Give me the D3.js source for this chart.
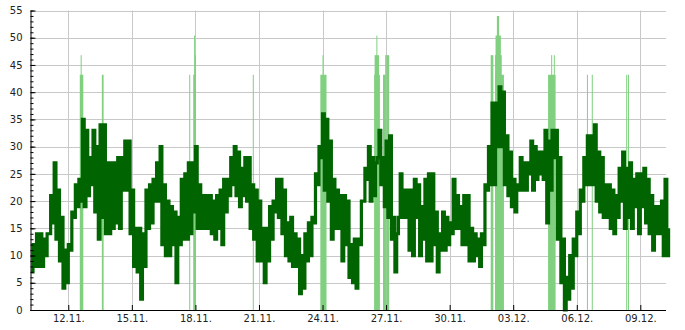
<!DOCTYPE html>
<meta charset="utf-8">
<style>
  body { margin: 0; background: white; }
  .axis text { font-family: "DejaVu Sans", sans-serif; font-size: 10px; fill: #222; }
  .axis path, .axis line { stroke: #000; }
  .grid line { stroke: #c8c8c8; stroke-width: 1px; }
</style>
<body>
<svg width="685" height="330"></svg>
<script src="https://d3js.org/d3.v7.min.js"></script>
<script>

// wind: low and high of every 4 hour block, starting 10.11. 06:00
var seriesStart = "2023-11-10T06:00";
var stepHours = 4;

var windLow = [
  7, 8, 8, 8, 10, 14, 16, 13, 9, 4, 5, 11, 17, 19, 20, 19, 21, 23, 18, 13,
  17, 14, 14, 15, 16, 15, 22, 22, 14, 8, 7, 2, 8, 15, 16, 20, 20, 12, 10, 10,
  12, 5, 12, 13, 13, 14, 18, 15, 15, 15, 15, 14, 13, 15, 12, 18, 21, 23, 21, 19,
  21, 20, 15, 13, 9, 9, 5, 9, 13, 18, 17, 14, 10, 9, 8, 8, 3, 4, 9, 10,
  16, 23, 28, 22, 20, 13, 15, 15, 9, 12, 6, 5, 4, 12, 20, 24, 20, 21, 28, 23,
  19, 17, 13, 7, 17, 17, 17, 11, 10, 17, 10, 13, 9, 9, 12, 7, 11, 11, 12, 14,
  15, 15, 12, 12, 9, 9, 10, 8, 12, 22, 23, 23, 30, 30, 23, 21, 19, 18, 22, 22,
  22, 25, 22, 24, 25, 24, 16, 22, 28, 13, 5, 0, 2, 4, 10, 14, 20, 23, 23, 23,
  20, 18, 17, 17, 15, 14, 17, 20, 15, 17, 15, 19, 14, 19, 16, 14, 11, 14, 14, 10,
  10
];

var windHigh = [
  12, 14, 14, 13, 14, 21, 27, 22, 17, 11, 12, 18, 23, 24, 35, 33, 28, 33, 30, 34,
  34, 27, 27, 27, 28, 28, 31, 31, 22, 15, 15, 14, 22, 23, 24, 27, 30, 23, 20, 19,
  18, 17, 24, 25, 27, 27, 30, 23, 21, 21, 21, 20, 21, 22, 24, 24, 28, 30, 29, 26,
  28, 28, 23, 22, 20, 15, 15, 19, 20, 24, 24, 22, 16, 17, 14, 13, 10, 14, 16, 17,
  25, 30, 36, 35, 31, 24, 22, 21, 21, 20, 12, 13, 13, 20, 26, 30, 28, 27, 33, 28,
  31, 32, 17, 14, 25, 22, 22, 22, 24, 23, 19, 24, 25, 25, 18, 14, 18, 17, 16, 24,
  21, 19, 21, 21, 15, 14, 13, 14, 23, 30, 38, 38, 41, 40, 32, 29, 24, 23, 28, 27,
  27, 31, 30, 29, 29, 33, 31, 33, 33, 28, 13, 6, 10, 13, 18, 22, 28, 32, 32, 34,
  29, 28, 23, 23, 22, 21, 26, 29, 26, 27, 24, 25, 25, 26, 24, 21, 19, 19, 20, 24,
  15
];

// gusts, drawn as bars from 0
var gustFrom = [
  "2023-11-12T13:00", "2023-11-12T14:00", "2023-11-13T14:00", "2023-11-17T17:00",
  "2023-11-17T21:30", "2023-11-17T22:30", "2023-11-17T23:30", "2023-11-20T17:00",
  "2023-11-23T21:30", "2023-11-24T00:00", "2023-11-26T10:30", "2023-11-26T11:00",
  "2023-11-26T13:00", "2023-11-26T20:30", "2023-11-26T23:00", "2023-11-27T00:20",
  "2023-12-01T22:30", "2023-12-02T03:30", "2023-12-02T03:30", "2023-12-02T04:00",
  "2023-12-02T05:30", "2023-12-04T15:30", "2023-12-04T19:00", "2023-12-04T22:00",
  "2023-12-06T11:30", "2023-12-06T17:00", "2023-12-08T08:00", "2023-12-08T10:00"
];
var gustTo = [
  "2023-11-12T17:00", "2023-11-12T15:00", "2023-11-13T16:00", "2023-11-17T18:00",
  "2023-11-18T00:30", "2023-11-17T23:30", "2023-11-18T00:30", "2023-11-20T18:00",
  "2023-11-24T04:30", "2023-11-24T01:00", "2023-11-26T17:00", "2023-11-26T16:00",
  "2023-11-26T14:00", "2023-11-26T23:40", "2023-11-26T23:40", "2023-11-27T03:30",
  "2023-12-02T01:30", "2023-12-02T13:30", "2023-12-02T11:00", "2023-12-02T10:00",
  "2023-12-02T08:00", "2023-12-05T00:00", "2023-12-04T20:00", "2023-12-04T23:00",
  "2023-12-06T12:30", "2023-12-06T18:00", "2023-12-08T09:00", "2023-12-08T11:00"
];
var gustValue = [
  43.2, 46.8, 43.2, 43.2,
  43.2, 50.4, 46.8, 43.2,
  43.2, 46.8, 43.2, 46.8,
  50.4, 43.2, 46.8, 46.8,
  46.8, 43.2, 46.8, 50.4,
  54, 43.2, 46.8, 46.8,
  43.2, 43.2, 43.2, 43.2
];

var xTickDates = ["2023-11-12", "2023-11-15", "2023-11-18", "2023-11-21", "2023-11-24",
  "2023-11-27", "2023-11-30", "2023-12-03", "2023-12-06", "2023-12-09"];
var yTicks = [0, 5, 10, 15, 20, 25, 30, 35, 40, 45, 50, 55];

var svg = d3.select("svg");
var plotLeft = 30.5, plotRight = 666, plotTop = 10.5, plotBottom = 310;

var x = d3.scaleTime()
  .domain([new Date("2023-11-10T05:45"), new Date("2023-12-10T05:05")])
  .range([plotLeft + 0.5, plotRight]);
var y = d3.scaleLinear().domain([0, 55]).range([plotBottom, plotTop]);

var tickDates = xTickDates.map(d => new Date(d + "T00:00"));

// grid
var grid = svg.append("g").attr("class", "grid");
grid.selectAll(".h").data(yTicks.slice(1)).enter().append("line")
  .attr("x1", plotLeft).attr("x2", plotRight)
  .attr("y1", d => Math.round(y(d)) + 0.5).attr("y2", d => Math.round(y(d)) + 0.5);
grid.selectAll(".v").data(tickDates).enter().append("line")
  .attr("y1", plotTop).attr("y2", plotBottom)
  .attr("x1", d => Math.round(x(d)) + 0.5).attr("x2", d => Math.round(x(d)) + 0.5);

// gust bars
svg.append("g").selectAll("rect")
  .data(gustValue.map((v, i) => ({ from: new Date(gustFrom[i]), to: new Date(gustTo[i]), v: v })))
  .enter().append("rect")
  .attr("x", d => x(d.from))
  .attr("width", d => Math.max(1, x(d.to) - x(d.from)))
  .attr("y", d => y(d.v))
  .attr("height", d => y(0) - y(d.v))
  .attr("fill", "#80d080");

// wind line, zig zag between low and high of each block
var t0 = new Date(seriesStart).getTime();
var points = [];
windLow.forEach(function (lo, i) {
  var t = t0 + i * stepHours * 3600e3;
  points.push({ t: new Date(t), v: lo });
  points.push({ t: new Date(t + stepHours / 2 * 3600e3), v: windHigh[i] });
});

var line = d3.line()
  .x(d => x(d.t))
  .y(d => y(d.v))
  .curve(d3.curveStepAfter);

svg.append("path")
  .datum(points)
  .attr("d", line)
  .attr("fill", "none")
  .attr("stroke", "#006400")
  .attr("stroke-width", 3.2)
  .attr("stroke-linejoin", "miter");

// axes
var xAxis = d3.axisBottom(x)
  .tickValues(tickDates)
  .tickFormat(d3.timeFormat("%d.%m."))
  .tickSizeInner(-5)
  .tickSizeOuter(0)
  .tickPadding(5);

svg.append("g")
  .attr("class", "axis")
  .attr("transform", "translate(0," + plotBottom + ")")
  .call(xAxis)
  .call(g => g.select(".domain").attr("d", "M" + plotLeft + ",0.5H" + plotRight));

var yAxis = d3.axisLeft(y)
  .tickValues(yTicks)
  .tickSizeInner(-5)
  .tickSizeOuter(0)
  .tickPadding(8);

svg.append("g")
  .attr("class", "axis")
  .attr("transform", "translate(" + plotLeft + ",0)")
  .call(yAxis);

// minor ticks every 1
svg.append("g")
  .attr("class", "axis")
  .attr("transform", "translate(" + plotLeft + ",0)")
  .call(d3.axisLeft(y).tickValues(d3.range(0, 56)).tickSizeInner(-3).tickSizeOuter(0).tickFormat(""))
  .call(g => g.select(".domain").remove());

</script>
</body>
